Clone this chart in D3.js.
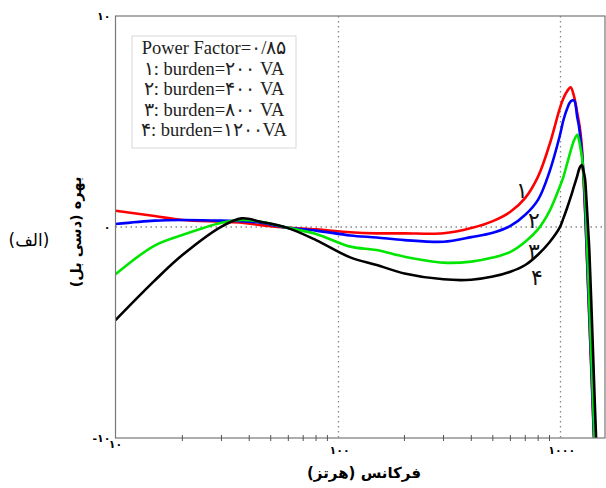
<!DOCTYPE html>
<html><head><meta charset="utf-8">
<script src="https://cdn.jsdelivr.net/npm/d3@7"></script>
<style>body{margin:0;background:#fff}svg{display:block}</style>
</head><body>
<script>
const freqs = [10,15,20,30,37,45,59,80,114,150,200,300,400,500,600,700,800,900,1000,1040,1080,1120,1160,1200,1220,1240,1260,1280,1300,1320,1340,1360,1400,1440,1480];
const series1 = [0.77,0.52,0.33,0.25,0.2,0.09,-0.03,-0.11,-0.25,-0.3,-0.3,-0.3,-0.05,0.28,0.72,1.38,2.4,3.9,5.6,6.1,6.43,6.62,6.2,5.4,5.0,4.5,3.75,2.3,0.85,-0.85,-2.7,-4.4,-7.8,-11.2,-14.3];
const series2 = [0.14,0.3,0.33,0.3,0.28,0.2,-0.03,-0.17,-0.4,-0.5,-0.62,-0.7,-0.48,-0.27,0.05,0.58,1.3,2.62,4.3,5.07,5.6,5.95,6.0,5.2,4.8,4.2,3.5,2.5,1.0,-0.7,-2.5,-4.2,-7.6,-11.0,-14.2];
const series3 = [-2.24,-0.88,-0.38,0.2,0.33,0.25,-0.03,-0.33,-0.93,-1.09,-1.41,-1.69,-1.64,-1.45,-1.18,-0.7,-0.1,0.75,1.9,2.38,3.0,3.6,4.1,4.37,4.15,3.75,3.3,2.5,1.55,-0.1,-1.85,-3.6,-7.0,-10.4,-13.5];
const series4 = [-4.41,-2.54,-1.33,0.02,0.41,0.25,-0.03,-0.62,-1.44,-1.8,-2.2,-2.48,-2.5,-2.35,-2.12,-1.8,-1.3,-0.72,-0.03,0.42,0.9,1.4,1.92,2.42,2.7,2.88,2.93,2.65,2.3,1.3,0.1,-1.1,-4.7,-8.4,-11.7];
const seriesColors = ["#ff0000","#0000ff","#00e600","#000000"];
const curveLabels = ["۱","۲","۳","۴"];
const legendLines = ["Power Factor=۰/۸۵","۱: burden=۲۰۰ VA","۲: burden=۴۰۰ VA","۳: burden=۸۰۰ VA","۴: burden=۱۲۰۰VA"];
const xMajorTicks = [10,100,1000];
const xMajorLabels = ["۱۰","۱۰۰","۱۰۰۰"];
const xMinorTicks = [20,30,40,50,60,70,80,90,200,300,400,500,600,700,800,900];
const yTicks = [10,0,-10];
const yTickLabels = ["۱۰","۰","-۱۰"];
const xDomain = [10,1600];
const yDomain = [-10,10];

const W=606,H=488;
const L=115.5,R=605,T=16,B=438;
const svg=d3.select("body").append("svg").attr("width",W).attr("height",H);
const x=d3.scaleLog().domain(xDomain).range([L,R]);
const y=d3.scaleLinear().domain(yDomain).range([B,T]);

svg.append("defs").append("clipPath").attr("id","clip")
  .append("rect").attr("x",L).attr("y",T).attr("width",R-L).attr("height",B-T);

// grid dotted
const grid=svg.append("g").attr("stroke","#888").attr("stroke-width",1.3).attr("stroke-dasharray","1.5,3.5");
[100,1000].forEach(v=>grid.append("line").attr("x1",Math.round(x(v))+0.5).attr("x2",Math.round(x(v))+0.5).attr("y1",T).attr("y2",B));
grid.append("line").attr("x1",L).attr("x2",R).attr("y1",y(0)).attr("y2",y(0));

// curves
const line=d3.line().x((d,i)=>x(freqs[i])).y(d=>y(d)).curve(d3.curveCatmullRom.alpha(0.5));
const g=svg.append("g").attr("clip-path","url(#clip)");
[series1,series2,series3,series4].forEach((s,k)=>{
  g.append("path").attr("d",line(s)).attr("fill","none").attr("stroke",seriesColors[k]).attr("stroke-width",2.6).attr("stroke-linejoin","round");
});

// frame
svg.append("rect").attr("x",L).attr("y",T).attr("width",R-L).attr("height",B-T).attr("fill","none").attr("stroke","#777").attr("stroke-width",1.2);

// x ticks
svg.append("g").selectAll("line").data(xMinorTicks).join("line")
  .attr("x1",d=>x(d)).attr("x2",d=>x(d)).attr("y1",B-3).attr("y2",B+3).attr("stroke","#555").attr("stroke-width",1);
svg.append("g").selectAll("text").data(xMajorTicks).join("text")
  .attr("x",d=>x(d)+(d===10?0:2)).attr("y",(d,i)=>i===0?448:454).attr("text-anchor","middle")
  .attr("font-family","DejaVu Sans").attr("font-weight","bold").attr("font-size",11)
  .text((d,i)=>xMajorLabels[i]);

// y tick labels
svg.append("g").selectAll("text").data(yTicks).join("text")
  .attr("x",L-5).attr("y",d=>y(d)+4).attr("text-anchor","end")
  .attr("font-family","DejaVu Sans").attr("font-weight","bold").attr("font-size",11)
  .text((d,i)=>yTickLabels[i]);

// axis titles
svg.append("text").attr("x",364).attr("y",478).attr("text-anchor","middle")
  .attr("font-family","DejaVu Sans").attr("font-weight","bold").attr("font-size",15)
  .attr("direction","rtl").text("فرکانس (هرتز)");
svg.append("text").attr("transform","translate(81,232) rotate(-90)").attr("text-anchor","middle")
  .attr("font-family","DejaVu Sans").attr("font-weight","bold").attr("font-size",14.5)
  .attr("direction","rtl").text("بهره (دسی بل)");
svg.append("text").attr("x",29).attr("y",246).attr("text-anchor","middle")
  .attr("font-family","DejaVu Sans").attr("font-size",17)
  .attr("direction","rtl").text("(الف)");

// legend
svg.append("rect").attr("x",132).attr("y",36).attr("width",164).attr("height",112)
  .attr("fill","#fff").attr("stroke","#d8d8d8").attr("stroke-width",1);
svg.append("g").selectAll("text").data(legendLines).join("text")
  .attr("x",214).attr("y",(d,i)=>54+i*20.5).attr("text-anchor","middle")
  .attr("font-family","Liberation Serif, DejaVu Serif").attr("font-size",18.5).attr("fill","#222")
  .text(d=>d);

// curve labels
const labelPos=[[522,190],[534,220],[534,251],[537,277]];
svg.append("g").selectAll("text").data(curveLabels).join("text")
  .attr("x",(d,i)=>labelPos[i][0]).attr("y",(d,i)=>labelPos[i][1]+8).attr("text-anchor","middle")
  .attr("font-family","DejaVu Sans").attr("font-size",22).attr("fill","#111")
  .text(d=>d);
</script>
</body></html>
